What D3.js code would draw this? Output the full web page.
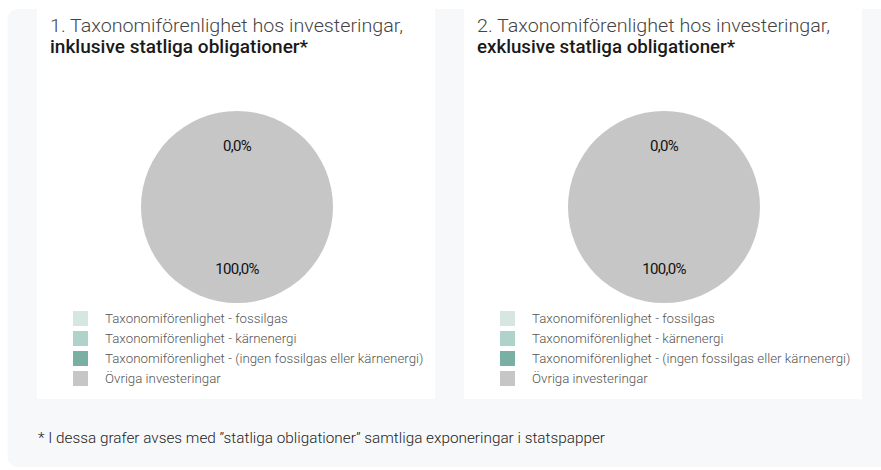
<!DOCTYPE html>
<html><head><meta charset="utf-8">
<script src="https://cdn.jsdelivr.net/npm/d3@7"></script>
<style>
html,body{margin:0;padding:0;background:#fff;}
svg{display:block;}
text{font-family:Roboto,"Liberation Sans",Arial,sans-serif;}
</style></head>
<body>
<svg id="chart" width="881" height="470"></svg>
<script>
const chartTitles = ["1. Taxonomiförenlighet hos investeringar,", "2. Taxonomiförenlighet hos investeringar,"];
const chartSubtitles = ["inklusive statliga obligationer*", "exklusive statliga obligationer*"];
const categories = ["Taxonomiförenlighet - fossilgas", "Taxonomiförenlighet - kärnenergi", "Taxonomiförenlighet - (ingen fossilgas eller kärnenergi)", "Övriga investeringar"];
const colors = ["#d6e7e2", "#afd2ca", "#7aafa3", "#c6c6c6"];
const valuesIncl = [0, 0, 0, 100];
const valuesExcl = [0, 0, 0, 100];
const labelGroups = ["Taxonomiförenlig", "Övriga"];
const labelValuesIncl = [0.0, 100.0];
const labelValuesExcl = [0.0, 100.0];
const footnote = "* I dessa grafer avses med \u201dstatliga obligationer\u201d samtliga exponeringar i statspapper";

const svg = d3.select("#chart");
svg.append("rect").attr("x", 7.5).attr("y", 9).attr("width", 890).attr("height", 458)
  .attr("rx", 10).attr("fill", "#f7f8fa");

const panels = [
  {x: 37, title: chartTitles[0], sub: chartSubtitles[0], values: valuesIncl, labels: labelValuesIncl},
  {x: 464, title: chartTitles[1], sub: chartSubtitles[1], values: valuesExcl, labels: labelValuesExcl}
];
const fmt = v => d3.format(".1f")(v).replace(".", ",") + "%";
const r = 96;
const pie = d3.pie().sort(null).value(d => d);
const arc = d3.arc().innerRadius(0).outerRadius(r);
const labelArc = d3.arc().innerRadius(r * 0.64).outerRadius(r * 0.64);
const color = d3.scaleOrdinal().domain(categories).range(colors);

panels.forEach(p => {
  const g = svg.append("g").attr("transform", `translate(${p.x},0)`);
  g.append("rect").attr("x", 0).attr("y", 0).attr("width", 398).attr("height", 399).attr("fill", "#fff");
  g.append("text").attr("x", 13).attr("y", 32).attr("font-size", 18.5).attr("font-weight", 300)
    .attr("fill", "#444").attr("textLength", 353).attr("lengthAdjust", "spacingAndGlyphs").text(p.title);
  g.append("text").attr("x", 13).attr("y", 53).attr("font-size", 18.5).attr("font-weight", 500)
    .attr("fill", "#1a1a1a").attr("textLength", 258).attr("lengthAdjust", "spacingAndGlyphs").text(p.sub);

  const pg = g.append("g").attr("transform", `translate(200,207)`);
  pg.selectAll("path").data(pie(p.values)).join("path")
    .attr("d", arc).attr("fill", (d, i) => color(categories[i]));
  pg.selectAll("text.lbl").data(pie(p.labels)).join("text").attr("class", "lbl")
    .attr("transform", d => { const c = labelArc.centroid(d); return `translate(${c[0]},${c[1]})`; })
    .attr("dy", "0.35em").attr("text-anchor", "middle").attr("font-size", 15)
    .attr("letter-spacing", -0.7).attr("fill", "#111").text(d => fmt(d.data));

  const lg = g.append("g").attr("transform", "translate(36,311)");
  const rows = lg.selectAll("g").data(categories).join("g")
    .attr("transform", (d, i) => `translate(0,${i * 20})`);
  rows.append("rect").attr("width", 15).attr("height", 15).attr("fill", d => color(d));
  rows.append("text").attr("x", 32).attr("y", 12).attr("font-size", 13.3).attr("fill", "#555")
    .attr("font-weight", 300).text(d => d);
});

svg.append("text").attr("x", 38).attr("y", 443).attr("font-size", 14).attr("fill", "#222")
  .attr("font-weight", 300).attr("textLength", 567).attr("lengthAdjust", "spacingAndGlyphs").text(footnote);
</script>
</body></html>
